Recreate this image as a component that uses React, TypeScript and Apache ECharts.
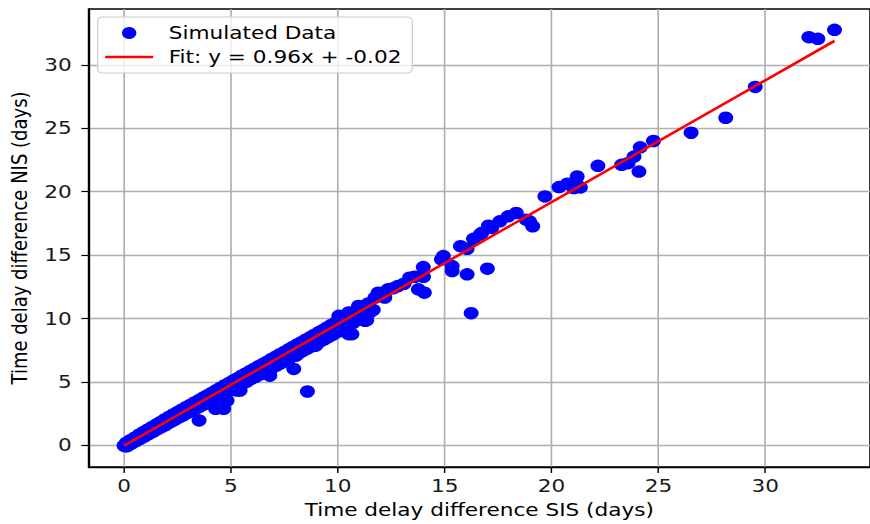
import React, { useEffect, useRef } from "react";
import * as echarts from "echarts";

// Dense band of points along the diagonal (SIS days, NIS days)
const bandPoints: [number, number][] = [
  [0.0, 0.0], [0.05, -0.05], [0.1, 0.2], [0.15, -0.05], [0.3, 0.42], [0.35, 0.15],
  [0.5, 0.62], [0.55, 0.35], [0.7, 0.85], [0.75, 0.52], [0.9, 1.05], [0.95, 0.7],
  [1.1, 1.25], [1.15, 0.9], [1.3, 1.45], [1.35, 1.08], [1.5, 1.65], [1.55, 1.27],
  [1.7, 1.85], [1.75, 1.45], [1.9, 2.05], [1.95, 1.62], [2.1, 2.25], [2.15, 1.82],
  [2.3, 2.45], [2.35, 2.0], [2.5, 2.64], [2.55, 2.2], [2.7, 2.83], [2.75, 2.36],
  [2.9, 3.02], [2.95, 2.55], [3.1, 3.2], [3.15, 2.72], [3.3, 3.4], [3.35, 2.9],
  [3.5, 3.58], [3.55, 3.08], [3.7, 3.78], [3.75, 3.25], [3.9, 3.96], [3.95, 3.45],
  [4.1, 4.15], [4.15, 3.62], [4.3, 4.35], [4.35, 3.8], [4.5, 4.54], [4.55, 3.98],
  [4.7, 4.73], [4.75, 4.15], [4.9, 4.92], [4.95, 4.35], [5.1, 5.12], [5.15, 4.52],
  [5.3, 5.3], [5.35, 4.7], [5.5, 5.5], [5.55, 4.88], [5.7, 5.68], [5.75, 5.05],
  [5.9, 5.88], [5.95, 5.25], [6.1, 6.06], [6.15, 5.42], [6.3, 6.25], [6.35, 5.6],
  [6.5, 6.44], [6.55, 5.78], [6.7, 6.62], [6.75, 5.95], [6.9, 6.82], [6.95, 6.15],
  [7.1, 7.0], [7.15, 6.32], [7.3, 7.2], [7.35, 6.5], [7.5, 7.38], [7.55, 6.7],
  [7.7, 7.58], [7.75, 6.88], [7.9, 7.77], [7.95, 7.08], [8.1, 7.96], [8.15, 7.25],
  [8.3, 8.15], [8.35, 7.45], [8.5, 8.34], [8.55, 7.62], [8.7, 8.53], [8.75, 7.8],
  [8.9, 8.72], [8.95, 8.0], [9.1, 8.92], [9.15, 8.18], [9.3, 9.1], [9.35, 8.35],
  [9.5, 9.3], [9.55, 8.55], [9.7, 9.5], [9.75, 8.72], [9.9, 9.68], [9.95, 8.92],
  [10.1, 9.88], [10.2, 9.15], [10.35, 10.12], [10.45, 9.4], [10.6, 10.35], [10.7, 9.65],
  [10.85, 10.6], [10.95, 9.9], [11.1, 10.85], [11.25, 10.2], [11.43, 11.2], [11.5, 10.5],
];

// Points departing below the band (lower outliers)
const lowerPoints: [number, number][] = [
  [3.51, 1.98], [4.28, 2.9], [4.66, 2.9], [4.82, 3.55], [5.28, 4.34], [5.43, 4.34],
  [6.82, 5.51], [6.97, 6.3], [7.94, 6.04], [8.58, 4.26], [8.05, 7.08], [8.97, 7.87],
  [9.35, 8.39], [10.36, 9.18], [10.51, 8.78], [10.66, 8.78], [11.28, 9.83], [11.35, 9.88],
  [11.66, 10.69], [12.2, 11.66],
];

// Sparser points in the upper range
const upperPoints: [number, number][] = [
  [10.05, 10.22], [10.51, 10.49], [10.97, 11.0],
  [11.74, 11.66], [11.89, 12.05], [12.0, 11.9], [12.35, 12.31], [12.6, 12.4],
  [12.82, 12.57], [13.1, 12.75], [13.36, 13.23], [13.6, 13.3], [13.77, 12.31],
  [14.0, 14.06], [14.01, 13.3], [14.05, 12.05], [14.85, 14.67], [14.94, 14.93],
  [15.35, 14.14], [15.35, 13.75], [16.05, 13.49], [17.0, 13.94], [16.24, 10.43],
  [15.74, 15.71], [16.05, 15.5], [16.35, 16.29], [16.66, 16.63], [16.74, 16.76],
  [17.05, 17.33], [17.2, 17.15], [17.58, 17.67], [17.97, 18.06], [18.35, 18.33],
  [18.81, 17.8], [18.97, 17.67], [19.12, 17.28], [19.69, 19.63], [20.35, 20.37],
  [20.74, 20.63], [21.04, 20.29], [21.2, 21.2], [21.27, 20.42], [21.35, 20.34],
  [22.17, 22.04], [23.28, 22.12], [23.58, 22.25], [23.86, 22.77], [24.09, 21.59],
  [24.15, 23.5], [24.77, 24.0], [26.53, 24.65], [28.15, 25.83], [29.53, 28.26],
  [32.04, 32.18], [32.46, 32.05], [33.24, 32.76],
];

// Fitted line endpoints (y = 0.96x - 0.02)
const fitLine: [number, number][] = [
  [0.0, -0.02],
  [33.24, 31.89],
];

const xTicks = [0, 5, 10, 15, 20, 25, 30];
const yTicks = [0, 5, 10, 15, 20, 25, 30];

const FONT = "DejaVu Sans";

export default function App() {
  const ref = useRef<HTMLDivElement>(null);

  useEffect(() => {
    if (!ref.current) return;
    const chart = echarts.init(ref.current, undefined, { renderer: "svg" });
    const axisCommon = {
      axisLine: { show: true, onZero: false, lineStyle: { color: "#000", width: 1.3 } },
      axisTick: { show: true, length: 6, lineStyle: { color: "#000", width: 1.2 } },
      splitLine: { show: true, lineStyle: { color: "#b0b0b0", width: 1.4 } },
      nameLocation: "middle" as const,
      nameTextStyle: { fontFamily: FONT, fontSize: 18, color: "#000" },
    };
    chart.setOption({
      animation: false,
      backgroundColor: "#ffffff",
      grid: {
        left: 72.25,
        right: -7.5,
        top: 9,
        bottom: 55,
        show: true,
        borderColor: "#000",
        borderWidth: 1.3,
        backgroundColor: "transparent",
      },
      legend: {
        left: 81.4,
        top: 17,
        orient: "vertical",
        itemWidth: 40,
        itemHeight: 12,
        itemGap: 6,
        padding: [7, 9, 7, 5],
        borderColor: "#cccccc",
        borderWidth: 1,
        borderRadius: 4,
        backgroundColor: "rgba(255,255,255,0.8)",
        textStyle: { fontFamily: FONT, fontSize: 18, color: "#000", padding: [0, 0, 0, 8] },
        data: [
          { name: "Simulated Data" },
          {
            name: "Fit: y = 0.96x + -0.02",
            itemStyle: { color: "rgba(0,0,0,0)", borderWidth: 0, opacity: 0 },
            lineStyle: { color: "#ff0000", width: 2.5, opacity: 1 },
          },
        ],
      },
      xAxis: {
        type: "value",
        min: -1.66,
        max: 34.9,
        name: "Time delay difference SIS (days)",
        nameGap: 34,
        ...axisCommon,
        axisTick: { ...axisCommon.axisTick, customValues: xTicks },
        axisLabel: {
          customValues: xTicks,
          fontFamily: FONT,
          fontSize: 18,
          color: "#1a1a1a",
          margin: 10,
        },
      },
      yAxis: {
        type: "value",
        min: -1.69,
        max: 34.4,
        name: "Time delay difference NIS (days)",
        nameGap: 46,
        ...axisCommon,
        axisTick: { ...axisCommon.axisTick, customValues: yTicks },
        axisLabel: {
          customValues: yTicks,
          fontFamily: FONT,
          fontSize: 18,
          color: "#1a1a1a",
          margin: 14,
        },
      },
      series: [
        {
          name: "Simulated Data",
          type: "scatter",
          symbol: "circle",
          symbolSize: 12.5,
          itemStyle: { color: "#0000ff", opacity: 1 },
          data: [...bandPoints, ...lowerPoints, ...upperPoints],
          z: 2,
        },
        {
          name: "Fit: y = 0.96x + -0.02",
          type: "line",
          symbol: "none",
          lineStyle: { color: "#ff0000", width: 2.5 },
          itemStyle: { color: "#ff0000" },
          data: fitLine,
          z: 3,
        },
      ],
    });
    return () => chart.dispose();
  }, []);

  return (
    <div
      ref={ref}
      style={{
        position: "absolute",
        left: 0,
        top: 0,
        width: 725,
        height: 524,
        transform: "scaleX(1.2)",
        transformOrigin: "0 0",
      }}
    />
  );
}
